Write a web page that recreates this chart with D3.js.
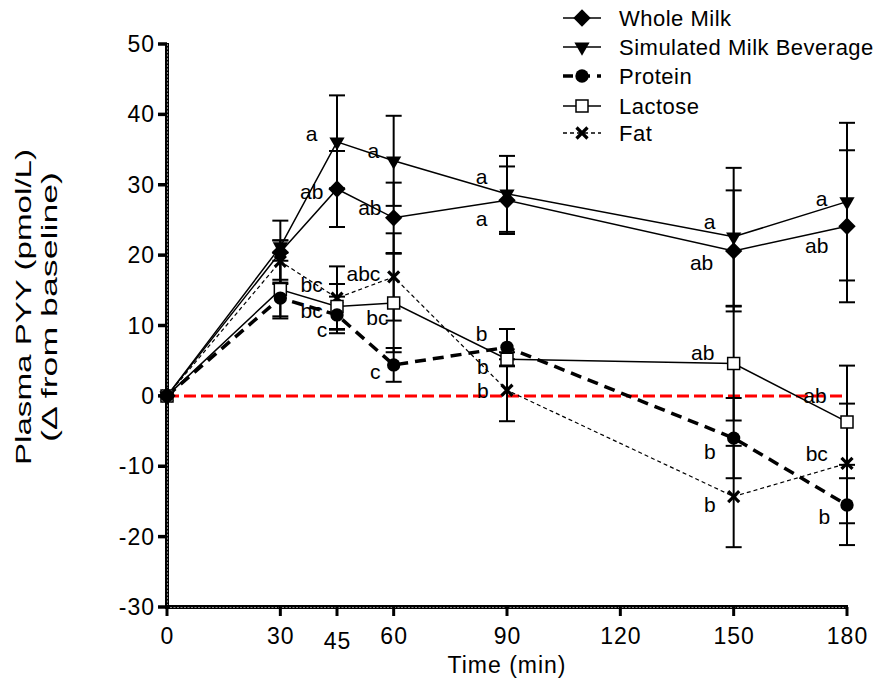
<!DOCTYPE html>
<html>
<head>
<meta charset="utf-8">
<script src="https://d3js.org/d3.v7.min.js"></script>
<style>
  body { margin: 0; background: #fff; }
  * { font-family: "Liberation Sans", Arial, sans-serif; }
</style>
</head>
<body>
<script>
// time points (min)
var times = [0, 30, 45, 60, 90, 150, 180];
var xTicks = [0, 30, 45, 60, 90, 120, 150, 180];
var yTicks = [-30, -20, -10, 0, 10, 20, 30, 40, 50];

// mean change from baseline (pmol/L) and SEM
var wholeMilk    = [0, 20.4, 29.4, 25.3, 27.8, 20.6, 24.1];
var wholeMilkSem = [0, 4.5, 5.4, 5.0, 4.8, 8.6, 10.8];
var simMilk      = [0, 21.2, 36.1, 33.4, 28.7, 22.6, 27.6];
var simMilkSem   = [0, 0.9, 6.6, 6.4, 5.4, 9.8, 11.2];
var protein      = [0, 13.9, 11.5, 4.4, 6.9, -6.0, -15.5];
var proteinSem   = [0, 2.6, 2.6, 2.4, 2.6, 5.7, 5.7];
var lactose      = [0, 15.1, 12.7, 13.2, 5.2, 4.6, -3.7];
var lactoseSem   = [0, 4.1, 3.2, 7.0, 1.0, 8.1, 8.0];
var fat          = [0, 19.1, 13.9, 16.9, 0.8, -14.3, -9.6];
var fatSem       = [0, 3.0, 4.5, 6.2, 4.4, 7.2, 8.5];

// significance letters, anchored in data units (time, pmol/L)
var sigText = ["a", "ab", "a", "ab", "a", "a", "a", "ab", "a", "ab",
               "bc", "abc", "bc", "c", "bc", "c", "b", "b", "b",
               "ab", "b", "b", "ab", "bc", "b"];
var sigTime = [38.3, 38.3, 54.6, 53.7, 83.3, 83.3, 143.6, 141.5, 173.3, 172.0,
               38.3, 52.0, 38.3, 41.0, 55.7, 55.1, 83.3, 83.6, 83.6,
               141.8, 143.7, 143.7, 171.5, 172.0, 174.0];
var sigValue = [37.3, 29.1, 34.9, 26.7, 31.2, 25.2, 24.8, 18.9, 28.1, 21.4,
                15.8, 17.4, 12.2, 9.4, 11.2, 3.5, 8.9, 4.2, 0.75,
                6.1, -7.9, -15.5, 0.1, -8.2, -17.2];

var series = [
  {name: "Whole Milk", values: wholeMilk, sem: wholeMilkSem, symbol: "diamond", width: 1.5, dash: null},
  {name: "Simulated Milk Beverage", values: simMilk, sem: simMilkSem, symbol: "triangle", width: 1.5, dash: null},
  {name: "Protein", values: protein, sem: proteinSem, symbol: "circle", width: 3.5, dash: "11,7"},
  {name: "Lactose", values: lactose, sem: lactoseSem, symbol: "square", width: 1.5, dash: null},
  {name: "Fat", values: fat, sem: fatSem, symbol: "cross", width: 1.2, dash: "4,3"}
];

var W = 880, H = 692;
var x = d3.scaleLinear().domain([0, 180]).range([167, 847]);
var y = d3.scaleLinear().domain([-30, 50]).range([607, 44]);

var svg = d3.select("body").append("svg")
    .attr("width", W).attr("height", H);

function symbolPath(kind) {
  if (kind === "diamond") return d3.symbol().type(d3.symbolSquare).size(150)();
  if (kind === "triangle") return d3.symbol().type(d3.symbolTriangle).size(100)();
  if (kind === "circle") return d3.symbol().type(d3.symbolCircle).size(140)();
  if (kind === "square") return d3.symbol().type(d3.symbolSquare).size(144)();
  return "M-5.5,-5.5L5.5,5.5M-5.5,5.5L5.5,-5.5";
}
function markerTransform(kind, px, py) {
  var t = "translate(" + px + "," + py + ")";
  if (kind === "diamond") t += " rotate(45)";
  if (kind === "triangle") t += " rotate(180)";
  return t;
}
function styleMarker(p, kind) {
  if (kind === "square") p.attr("fill", "#fff").attr("stroke", "#000").attr("stroke-width", 1.5);
  else if (kind === "cross") p.attr("fill", "none").attr("stroke", "#000").attr("stroke-width", 3.2);
  else p.attr("fill", "#000");
}

// axes
var axisG = svg.append("g");
axisG.append("line").attr("x1", 167).attr("x2", 167)
  .attr("y1", y(50) - 1).attr("y2", y(-30) + 2)
  .attr("stroke", "#000").attr("stroke-width", 4);
axisG.append("line").attr("x1", 165).attr("x2", x(180) + 1)
  .attr("y1", y(-30)).attr("y2", y(-30))
  .attr("stroke", "#000").attr("stroke-width", 4);
// striped texture of the minor ticks
axisG.append("line").attr("x1", 167.5).attr("x2", 167.5)
  .attr("y1", y(50)).attr("y2", y(-30) - 2)
  .attr("stroke", "#888").attr("stroke-width", 1).attr("stroke-dasharray", "2,1.5");
axisG.append("line").attr("x1", 170).attr("x2", x(180))
  .attr("y1", y(-30) + 0.5).attr("y2", y(-30) + 0.5)
  .attr("stroke", "#888").attr("stroke-width", 1).attr("stroke-dasharray", "2,1.5");

yTicks.forEach(function(v) {
  axisG.append("line").attr("x1", 158).attr("x2", 167)
    .attr("y1", y(v)).attr("y2", y(v))
    .attr("stroke", "#000").attr("stroke-width", 3.5);
  axisG.append("text").attr("x", 155).attr("y", y(v))
    .attr("text-anchor", "end").attr("dominant-baseline", "central")
    .attr("font-size", 23).attr("letter-spacing", 1).text(v);
});
xTicks.forEach(function(v) {
  axisG.append("line").attr("x1", x(v)).attr("x2", x(v))
    .attr("y1", y(-30)).attr("y2", y(-30) + 9)
    .attr("stroke", "#000").attr("stroke-width", 3);
  axisG.append("text").attr("x", x(v) + 0.5).attr("y", y(-30) + 29 + (v === 45 ? 5 : 0))
    .attr("text-anchor", "middle").attr("dominant-baseline", "central")
    .attr("font-size", 23).attr("letter-spacing", 1).text(v);
});

svg.append("text").attr("x", (x(0) + x(180)) / 2).attr("y", 665)
  .attr("text-anchor", "middle").attr("dominant-baseline", "central")
  .attr("font-size", 23).attr("letter-spacing", 1).text("Time (min)");

var yl = svg.append("text").attr("transform", "translate(0,307) rotate(-90)")
  .attr("text-anchor", "middle").attr("font-size", 22);
yl.append("tspan").attr("x", 0).attr("y", 31)
  .attr("textLength", 316).attr("lengthAdjust", "spacingAndGlyphs")
  .text("Plasma PYY  (pmol/L)");
yl.append("tspan").attr("x", 0).attr("y", 57)
  .attr("textLength", 270).attr("lengthAdjust", "spacingAndGlyphs")
  .text("(\u0394 from baseline)");

// baseline
svg.append("line").attr("x1", x(0)).attr("x2", x(180))
  .attr("y1", y(0)).attr("y2", y(0))
  .attr("stroke", "#ff0000").attr("stroke-width", 3)
  .attr("stroke-dasharray", "12,5");

// lines
var line = d3.line().x(function(d, i) { return x(times[i]); }).y(function(d) { return y(d); });
series.forEach(function(s) {
  svg.append("path").attr("d", line(s.values))
    .attr("fill", "none").attr("stroke", "#000")
    .attr("stroke-width", s.width)
    .attr("stroke-dasharray", s.dash);
});

// error bars
series.forEach(function(s) {
  var g = svg.append("g").attr("stroke", "#000").attr("stroke-width", 2);
  s.values.forEach(function(v, i) {
    if (!s.sem[i]) return;
    var px = x(times[i]), lo = y(v - s.sem[i]), hi = y(v + s.sem[i]);
    g.append("line").attr("x1", px).attr("x2", px).attr("y1", hi).attr("y2", lo);
    g.append("line").attr("x1", px - 8).attr("x2", px + 8).attr("y1", hi).attr("y2", hi);
    g.append("line").attr("x1", px - 8).attr("x2", px + 8).attr("y1", lo).attr("y2", lo);
  });
});

// markers (last series first, so the filled ones sit on top)
series.slice().reverse().forEach(function(s) {
  s.values.forEach(function(v, i) {
    var p = svg.append("path").attr("d", symbolPath(s.symbol))
      .attr("transform", markerTransform(s.symbol, x(times[i]), y(v)));
    styleMarker(p, s.symbol);
  });
});

// significance letters
sigText.forEach(function(t, i) {
  svg.append("text").attr("x", x(sigTime[i])).attr("y", y(sigValue[i]))
    .attr("text-anchor", "middle").attr("dominant-baseline", "central")
    .attr("font-size", 21).text(t);
});

// legend
var leg = svg.append("g");
series.forEach(function(s, i) {
  var ly = [18, 47, 76, 106, 133][i];
  leg.append("line").attr("x1", 563).attr("x2", 601).attr("y1", ly).attr("y2", ly)
    .attr("stroke", "#000").attr("stroke-width", s.width === 3.5 ? 3.5 : 1.3)
    .attr("stroke-dasharray", s.dash === null ? null : (s.width === 3.5 ? "10,7" : "4,3"));
  var p = leg.append("path").attr("d", symbolPath(s.symbol))
    .attr("transform", markerTransform(s.symbol, 582, ly));
  styleMarker(p, s.symbol);
  leg.append("text").attr("x", 619).attr("y", ly)
    .attr("dominant-baseline", "central").attr("font-size", 22)
    .attr("letter-spacing", 0.5).text(s.name);
});
</script>
</body>
</html>
